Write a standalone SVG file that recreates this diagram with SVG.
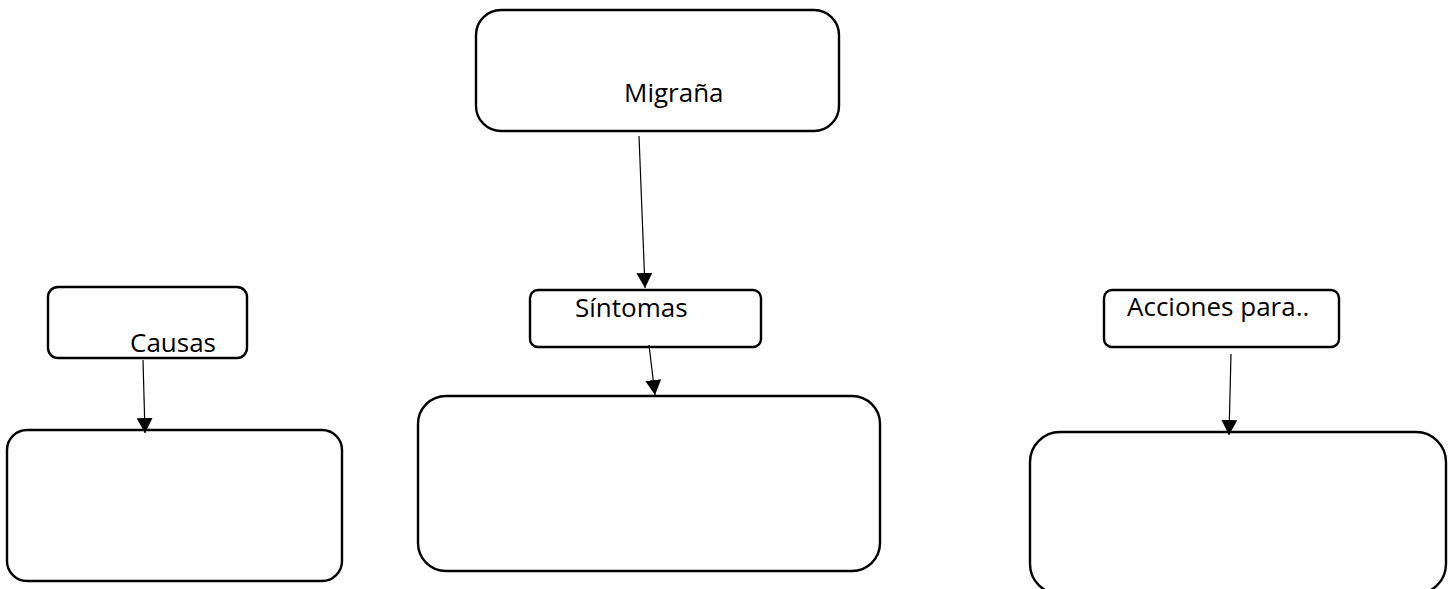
<svg xmlns="http://www.w3.org/2000/svg" width="1453" height="589" viewBox="0 0 1453 589">
<style>
.box{fill:#fff;stroke:#000;stroke-width:2.4}
.lbl{font-family:"Open Sans","Noto Sans",sans-serif;font-size:26px;fill:#000}
.conn{stroke:#000;stroke-width:1.2;fill:none}
</style>
<defs>
<marker id="ah" markerUnits="userSpaceOnUse" markerWidth="16" markerHeight="16" viewBox="0 0 16 16" refX="15" refY="8" orient="auto">
<path d="M0,0 L15,8 L0,16 Z" fill="#000"/>
</marker>
</defs>
<rect width="1453" height="589" fill="#fff"/>
<g id="migrana">
<rect class="box" x="476" y="10" width="363" height="121" rx="25"/>
<text class="lbl" x="624" y="102">Migraña</text>
</g>
<g id="causas">
<rect class="box" x="48" y="287" width="199" height="71" rx="10"/>
<text class="lbl" x="130" y="352">Causas</text>
</g>
<g id="causas-box">
<rect class="box" x="7" y="430" width="335" height="151" rx="20"/>
</g>
<g id="sintomas">
<rect class="box" x="530" y="290" width="231" height="57" rx="8"/>
<text class="lbl" x="575" y="317">Síntomas</text>
</g>
<g id="sintomas-box">
<rect class="box" x="418" y="396" width="462" height="175" rx="28"/>
</g>
<g id="acciones">
<rect class="box" x="1104" y="290" width="235" height="57" rx="8"/>
<text class="lbl" x="1127" y="316">Acciones para..</text>
</g>
<g id="acciones-box">
<rect class="box" x="1030" y="432" width="416" height="162" rx="30"/>
</g>
<g id="connectors">
<line class="conn" x1="639" y1="136" x2="645" y2="288" marker-end="url(#ah)"/>
<line class="conn" x1="143" y1="360" x2="145" y2="433" marker-end="url(#ah)"/>
<line class="conn" x1="649" y1="345" x2="655" y2="395" marker-end="url(#ah)"/>
<line class="conn" x1="1231" y1="354" x2="1229" y2="435" marker-end="url(#ah)"/>
</g>
</svg>
